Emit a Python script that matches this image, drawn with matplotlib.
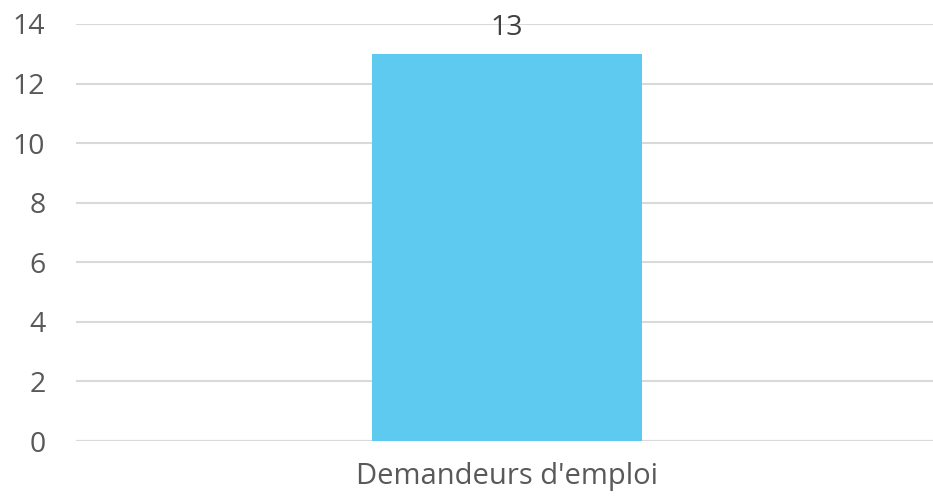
import matplotlib.pyplot as plt

categories = ["Demandeurs d'emploi"]
values = [13]
yticks = [0, 2, 4, 6, 8, 10, 12, 14]

plt.rcParams['font.family'] = ['Open Sans', 'DejaVu Sans']

fig = plt.figure(figsize=(9.33, 4.99), dpi=100)
ax = fig.add_axes([76/933, 1-441/499, (933-76)/933, (441-24)/499])

bars = ax.bar(range(len(categories)), values, width=0.315, color='#5ECAEF', zorder=2)
for b, v in zip(bars, values):
    ax.text(b.get_x() + b.get_width()/2, v + 0.4, str(v), ha='center', va='bottom',
            fontsize=20.5, color='#404040')

ax.set_xlim(-0.503, 0.497)
ax.set_ylim(0, 14)
ax.set_yticks(yticks)
ax.set_yticklabels([str(t) for t in yticks], fontsize=20.5, color='#595959')
ax.set_xticks(range(len(categories)))
ax.set_xticklabels(categories, fontsize=21, color='#595959')
ax.tick_params(axis='y', length=0, pad=22)
ax.tick_params(axis='x', length=0, pad=15)
ax.grid(axis='y', color='#D9D9D9', lw=1.5, zorder=0)
for s in ax.spines.values():
    s.set_visible(False)
ax.axhline(0, color='#D9D9D9', lw=1.5, zorder=1)

fig.savefig('out.png')
